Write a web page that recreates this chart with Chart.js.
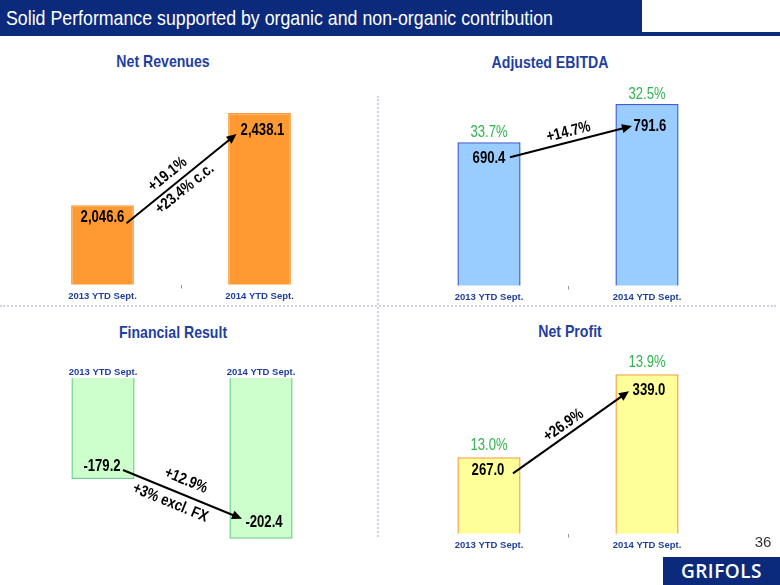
<!DOCTYPE html>
<html>
<head>
<meta charset="utf-8">
<script src="https://cdn.jsdelivr.net/npm/chart.js@4.4.1/dist/chart.umd.min.js"></script>
<style>
  html, body { margin: 0; padding: 0; background: #fff; }
  body { width: 780px; height: 585px; position: relative; overflow: hidden; font-family: 'Liberation Sans', Arial, sans-serif; }
  #hdr { position: absolute; left: 0; top: 0; width: 780px; height: 36px; background: #0c2a7c; }
  #hdr span { position: absolute; left: 6px; top: 6px; color: #fff; font: 21px 'Liberation Sans', Arial, sans-serif; white-space: nowrap; transform-origin: 0 0; }
  #hbox { position: absolute; left: 642px; top: 0; width: 138px; height: 32px; background: #fff; }
  .ptitle { position: absolute; width: 220px; text-align: center; color: #1f3f9f; font: bold 17px 'Liberation Sans', Arial, sans-serif; transform: scaleX(0.83); }
  .vline { position: absolute; left: 377px; top: 96px; height: 441px; border-left: 2px dotted #cfd0e8; }
  .hline { position: absolute; left: 0; top: 305px; width: 776px; border-top: 2px dotted #cfd0e8; }
  canvas { position: absolute; }
  #page { position: absolute; left: 748px; top: 533px; width: 30px; text-align: center; font: 15px 'Liberation Sans', sans-serif; color: #333; }
  #logo { position: absolute; left: 663px; top: 557px; width: 117px; height: 28px; background: #0c2a7c; color: #fff; text-align: center; font: 600 19px 'Open Sans', sans-serif; line-height: 28px; letter-spacing: 0.5px; }
</style>
</head>
<body>
<div id="hdr"><span id="ttl">Solid Performance supported by organic and non-organic contribution</span></div>
<div id="hbox"></div>
<div class="vline"></div>
<div class="hline"></div>
<div class="ptitle" style="left:53px;top:52px">Net Revenues</div>
<div class="ptitle" style="left:440px;top:53px">Adjusted EBITDA</div>
<div class="ptitle" style="left:63px;top:323px">Financial Result</div>
<div class="ptitle" style="left:460px;top:322px">Net Profit</div>
<canvas id="c1" width="378" height="226" style="left:0;top:80px"></canvas>
<canvas id="c2" width="400" height="226" style="left:380px;top:80px"></canvas>
<canvas id="c3" width="378" height="215" style="left:0;top:345px"></canvas>
<canvas id="c4" width="400" height="220" style="left:380px;top:340px"></canvas>
<div id="page">36</div>
<div id="logo">GRIFOLS</div>

<script>
// ── Data ──────────────────────────────────────────────
const categories      = ['2013 YTD Sept.', '2014 YTD Sept.'];
const netRevenues     = [2046.6, 2438.1];
const revenueGrowth   = ['+19.1%', '+23.4% c.c.'];
const adjEbitda       = [690.4, 791.6];
const ebitdaMargin    = [33.7, 32.5];
const ebitdaGrowth    = ['+14.7%'];
const financialResult = [-179.2, -202.4];
const financialGrowth = ['+12.9%', '+3% excl. FX'];
const netProfit       = [267.0, 339.0];
const profitMargin    = [13.0, 13.9];
const profitGrowth    = ['+26.9%'];

// ── Styles ────────────────────────────────────────────
const FONT   = "'Liberation Sans', Arial, sans-serif";
const BLUE   = '#1f3f9f';
const GREEN  = '#33b34f';
const NARROW = 0.82;   // horizontal squeeze, the slide uses Arial Narrow

// squeeze the header title into its box
const ttl = document.getElementById('ttl');
ttl.style.transform = 'scaleX(' + (547 / ttl.getBoundingClientRect().width) + ')';

const fmtVal = v => v.toLocaleString('en-US', { minimumFractionDigits: 1, maximumFractionDigits: 1 });

function narrowText(ctx, txt, x, y, rot) {
  ctx.save();
  ctx.translate(x, y);
  if (rot) ctx.rotate(rot);
  ctx.scale(NARROW, 1);
  ctx.fillText(txt, 0, 0);
  ctx.restore();
}

// draws baseline, value labels, margins and the growth arrow
const annotate = {
  id: 'annotate',
  afterDatasetsDraw(chart, args, o) {
    const ctx  = chart.ctx;
    const bars = chart.getDatasetMeta(0).data;
    const vals = chart.data.datasets[0].data;
    ctx.save();

    // baseline
    const by = bars[0].base;
    ctx.strokeStyle = '#b9b9b9';
    ctx.lineWidth = 1.5;
    ctx.beginPath();
    ctx.moveTo(bars[0].x - o.lineExt[0], by);
    ctx.lineTo(bars[1].x + o.lineExt[1], by);
    ctx.stroke();

    ctx.textAlign = 'center';
    ctx.textBaseline = 'middle';

    // value labels
    ctx.fillStyle = '#000';
    ctx.font = 'bold 16px ' + FONT;
    const pts = bars.map((b, i) => {
      const x = b.x + o.valueDx[i], y = b.y + o.valueDy[i];
      narrowText(ctx, fmtVal(vals[i]), x, y);
      return { x, y };
    });

    // margin labels above bars
    if (o.margins) {
      ctx.fillStyle = GREEN;
      ctx.font = '16px ' + FONT;
      bars.forEach((b, i) => narrowText(ctx, o.margins[i].toFixed(1) + '%', b.x, b.y - o.marginGap));
    }

    // arrow
    const x0 = pts[0].x + o.arrowFrom[0], y0 = pts[0].y + o.arrowFrom[1];
    const x1 = pts[1].x + o.arrowTo[0],   y1 = pts[1].y + o.arrowTo[1];
    const ang = Math.atan2(y1 - y0, x1 - x0);
    const c = Math.cos(ang), s = Math.sin(ang);
    ctx.strokeStyle = '#000';
    ctx.fillStyle = '#000';
    ctx.lineWidth = 2;
    ctx.beginPath();
    ctx.moveTo(x0, y0);
    ctx.lineTo(x1 - 6 * c, y1 - 6 * s);
    ctx.stroke();
    ctx.beginPath();
    ctx.moveTo(x1, y1);
    ctx.lineTo(x1 - 10 * c + 4.5 * s, y1 - 10 * s - 4.5 * c);
    ctx.lineTo(x1 - 10 * c - 4.5 * s, y1 - 10 * s + 4.5 * c);
    ctx.closePath();
    ctx.fill();

    // growth notes along the arrow
    const mx = (x0 + x1) / 2, my = (y0 + y1) / 2;
    ctx.font = 'bold 16px ' + FONT;
    o.notes.forEach((txt, i) => {
      const [along, across] = o.noteOffsets[i];
      narrowText(ctx, txt, mx + along * c + across * s, my + along * s - across * c, ang);
    });
    ctx.restore();
  }
};

function makePanel(id, cfg) {
  return new Chart(document.getElementById(id), {
    type: 'bar',
    data: {
      labels: categories,
      datasets: [{
        data: cfg.data,
        backgroundColor: cfg.fill,
        borderColor: cfg.stroke,
        borderWidth: 1.5,
        borderSkipped: false,
        categoryPercentage: 1,
        barPercentage: 0.4,
      }]
    },
    options: {
      responsive: false,
      animation: false,
      layout: { padding: cfg.pad },
      plugins: {
        legend: { display: false },
        tooltip: { enabled: false },
        annotate: cfg.ann,
      },
      scales: {
        x: {
          position: cfg.axisPos,
          border: { display: false },
          grid: {
            drawOnChartArea: false,
            drawTicks: cfg.axisPos === 'bottom',
            tickLength: 4,
            lineWidth: 1,
            color: c => c.index === 1 ? '#999' : 'rgba(0,0,0,0)',
          },
          ticks: { color: BLUE, padding: cfg.axisPos === 'bottom' ? 2 : 0, font: { family: FONT, size: 9.5, weight: 'bold' } },
        },
        y: { display: false, min: cfg.min, max: cfg.max },
      }
    },
    plugins: [annotate]
  });
}

makePanel('c1', {
  data: netRevenues, fill: '#ff9a33', stroke: '#f79a3a', axisPos: 'bottom',
  min: 1710, max: 2536, pad: { left: 24, right: 40, top: 10, bottom: 2 },
  ann: { lineExt: [37.5, 37.5], valueDx: [0, 3], valueDy: [12, 18],
         arrowFrom: [24, 6], arrowTo: [-26, 3],
         notes: revenueGrowth, noteOffsets: [[-8, 12], [-4, -10]] }
});

makePanel('c2', {
  data: adjEbitda, fill: '#99ccff', stroke: '#3f5fcf', axisPos: 'bottom',
  min: 310, max: 829, pad: { left: 30, right: 54, top: 10, bottom: 1 },
  ann: { lineExt: [37, 58], valueDx: [0, 3], valueDy: [16, 22], margins: ebitdaMargin, marginGap: 10,
         arrowFrom: [21, -1], arrowTo: [-18, 0],
         notes: ebitdaGrowth, noteOffsets: [[0, 10]] }
});

makePanel('c3', {
  data: financialResult, fill: '#ccffcc', stroke: '#6fd08a', axisPos: 'top',
  min: -206, max: -140, pad: { left: 24, right: 38, top: 21.6, bottom: 12 },
  ann: { lineExt: [48, 56], valueDx: [-1, 3], valueDy: [-12, -16],
         arrowFrom: [21, 3], arrowTo: [-22, -4],
         notes: financialGrowth, noteOffsets: [[-2, 14], [-8, -12.5]] }
});

makePanel('c4', {
  data: netProfit, fill: '#ffff99', stroke: '#f5a546', axisPos: 'bottom',
  min: 201, max: 364.3, pad: { left: 30, right: 54, top: 5, bottom: 7 },
  ann: { lineExt: [52, 52], valueDx: [-1, 2], valueDy: [13, 16], margins: profitMargin, marginGap: 12,
         arrowFrom: [25, 3], arrowTo: [-20, 1],
         notes: profitGrowth, noteOffsets: [[-2, 10]] }
});
</script>
</body>
</html>
